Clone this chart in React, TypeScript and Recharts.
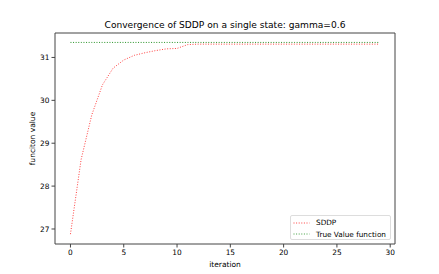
import { LineChart, Line, XAxis, YAxis, ReferenceArea } from 'recharts';

const iterations = Array.from({ length: 30 }, (_, i) => i);
// SDDP lower bound
const sddpValues = [
  26.88, 28.62, 29.66, 30.36, 30.75, 30.94, 31.05, 31.11, 31.16, 31.2,
  31.21, 31.3, 31.31, 31.31, 31.31, 31.31, 31.31, 31.31, 31.31, 31.31,
  31.31, 31.31, 31.31, 31.31, 31.31, 31.31, 31.31, 31.31, 31.31, 31.31,
];
const trueValue = 31.35;
const xTicks = [0, 5, 10, 15, 20, 25, 30];
const yTicks = [27, 28, 29, 30, 31];

const data = iterations.map((it, i) => ({ it, sddp: sddpValues[i], truth: trueValue }));

const FONT = '"DejaVu Sans", sans-serif';
const X_DOMAIN: [number, number] = [-1.45, 30.45];
const Y_DOMAIN: [number, number] = [26.65, 31.57];
const AXIS = '#444';

function YLabel({ viewBox }: any) {
  const cy = viewBox.y + viewBox.height / 2;
  return (
    <text x={32} y={cy} transform={`rotate(-90 32 ${cy})`} textAnchor="middle" dominantBaseline="central"
      fontSize={7.5} fill="#000" fontFamily={FONT}>
      funciton value
    </text>
  );
}

export default function App() {
  return (
    <div style={{ position: 'absolute', left: 0, top: 0, width: 439, height: 274, background: '#fff', fontFamily: FONT }}>
      <div style={{ position: 'absolute', left: 55, width: 340, top: 19, textAlign: 'center', fontSize: 9.1, lineHeight: '12px', color: '#000' }}>
        Convergence of SDDP on a single state: gamma=0.6
      </div>
      <LineChart width={439} height={274} data={data} margin={{ top: 33, right: 44, bottom: 0, left: 0 }}>
        <XAxis
          dataKey="it"
          type="number"
          domain={X_DOMAIN}
          allowDataOverflow
          ticks={xTicks}
          height={30}
          tickSize={3.5}
          axisLine={false}
          tickLine={{ stroke: AXIS }}
          tick={{ fontSize: 7.4, fill: '#000', fontFamily: FONT }}
          label={{ value: 'iteration', position: 'insideBottom', offset: 7, fontSize: 7.5, fill: '#000', fontFamily: FONT }}
        />
        <YAxis
          type="number"
          domain={Y_DOMAIN}
          allowDataOverflow
          ticks={yTicks}
          width={55}
          tickSize={3.5}
          axisLine={false}
          tickLine={{ stroke: AXIS }}
          tick={{ fontSize: 7.4, fill: '#000', fontFamily: FONT }}
          label={<YLabel />}
        />
        <ReferenceArea x1={X_DOMAIN[0]} x2={X_DOMAIN[1]} y1={Y_DOMAIN[0]} y2={Y_DOMAIN[1]} fill="none" stroke={AXIS} strokeWidth={1} />
        <Line dataKey="sddp" stroke="#ff0000" strokeOpacity={0.75} strokeWidth={1} strokeDasharray="1 1.6" dot={false} isAnimationActive={false} />
        <Line dataKey="truth" stroke="#008000" strokeOpacity={0.85} strokeWidth={1} strokeDasharray="1 1.6" dot={false} isAnimationActive={false} />
      </LineChart>
      <div style={{ position: 'absolute', left: 290, top: 215, width: 101, height: 25, border: '1px solid #ddd', borderRadius: 2, background: 'rgba(255,255,255,0.8)', fontSize: 7.3, color: '#000', boxSizing: 'border-box' }}>
        {[{ name: 'SDDP', color: '#ff0000' }, { name: 'True Value function', color: '#008000' }].map((s, i) => (
          <div key={s.name} style={{ position: 'absolute', left: 2, top: 1.5 + i * 11.5, height: 10, display: 'flex', alignItems: 'center' }}>
            <svg width={17} height={10} style={{ marginRight: 6 }}>
              <line x1={0.5} y1={5} x2={16.5} y2={5} stroke={s.color} strokeOpacity={0.75} strokeWidth={1} strokeDasharray="1 1.6" />
            </svg>
            <span style={{ whiteSpace: 'nowrap' }}>{s.name}</span>
          </div>
        ))}
      </div>
    </div>
  );
}
